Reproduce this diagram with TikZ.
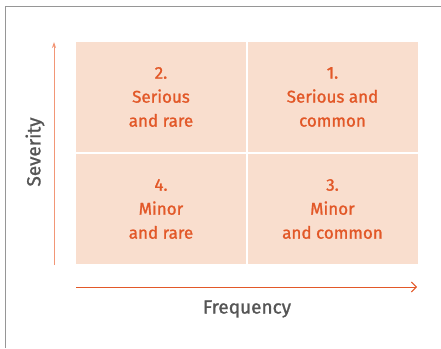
\documentclass[tikz,border=0pt]{standalone}
\usepackage{fontspec}
\setmainfont{Fira Sans}[FakeBold=1.2]
\usepackage{xcolor}
\definecolor{peach}{RGB}{249,222,206}
\definecolor{riskorange}{RGB}{226,88,40}
\definecolor{lightorange}{RGB}{242,150,118}
\definecolor{axisgray}{RGB}{85,85,85}
\definecolor{framegray}{RGB}{150,150,150}
\usepackage{tikz}
\usetikzlibrary{positioning,arrows.meta}

\tikzset{
  cell/.style={fill=peach, draw=none, minimum width=170pt, minimum height=110pt,
    inner sep=0pt, text=riskorange, align=center, font=\fontsize{17}{24}\selectfont},
  axislabel/.style={text=axisgray, font=\fontsize{19}{22}\selectfont}
}

\begin{document}
\begin{tikzpicture}[x=1pt, y=-1pt] % one unit = one pixel of the reference
  \useasboundingbox (0,0) rectangle (441,348);
  % Frame, only the left and top edges show
  \draw[framegray, line width=1.5pt] (5.5,348) -- (5.5,6.5) -- (441,6.5);
  % The four quadrants
  \node[cell] (q2) at (161,97) {2.\\Serious\\and rare};
  \node[cell] (q1) at (332.5,97) {1.\\Serious and\\common};
  \node[cell] (q4) at (161,209) {4.\\Minor\\and rare};
  \node[cell] (q3) at (332.5,209) {3.\\Minor\\and common};
  % Axes
  \coordinate (ybot) at (54,265);
  \coordinate (ytop) at (54,42);
  \coordinate (xleft) at (76,287);
  \coordinate (xright) at (417,287);
  \draw[lightorange, line width=0.9pt, -{Stealth[length=6pt, width=4pt]}] (ybot) -- (ytop);
  \draw[riskorange, line width=0.9pt, -{Straight Barb[length=5pt, width=10pt]}] (xleft) -- (xright);
  % Axis labels
  \node[axislabel] (freq) at (247,309) {Frequency};
  \node[axislabel, rotate=90] (sev) at (35,152) {Severity};
\end{tikzpicture}
\end{document}
